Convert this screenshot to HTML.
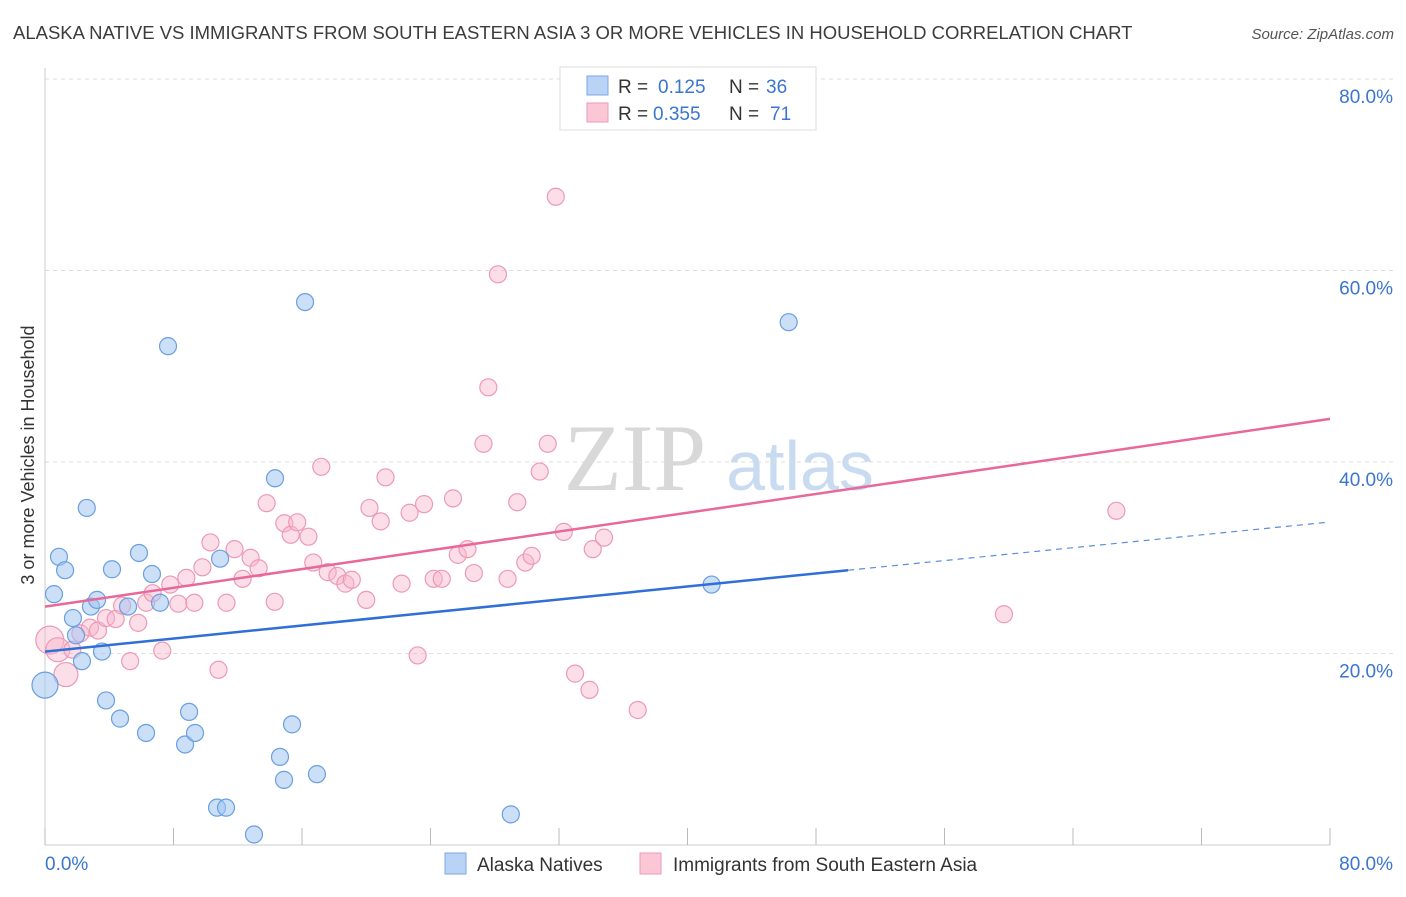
<!DOCTYPE html>
<html><head><meta charset="utf-8">
<style>
body{margin:0;background:#fff;font-family:"Liberation Sans",sans-serif;}
svg text{font-family:"Liberation Sans",sans-serif;}
</style></head>
<body>
<svg id="chart" width="1406" height="892" xmlns="http://www.w3.org/2000/svg">
<text x="13" y="39" font-size="18.5" fill="#3c3c3c">ALASKA NATIVE VS IMMIGRANTS FROM SOUTH EASTERN ASIA 3 OR MORE VEHICLES IN HOUSEHOLD CORRELATION CHART</text>
<text x="1394" y="39" font-size="15" fill="#555" font-style="italic" text-anchor="end">Source: ZipAtlas.com</text>
<text transform="translate(34,455) rotate(-90)" font-size="18" fill="#333" text-anchor="middle">3 or more Vehicles in Household</text>
<g>
<text x="635" y="490" font-size="95" fill="#d8d8d8" font-family="Liberation Serif" text-anchor="middle" style="font-family:'Liberation Serif',serif">ZIP</text>
<text x="800" y="490" font-size="70" fill="#c9dbf0" text-anchor="middle">atlas</text>
</g>
<g id="grid"></g>
<g id="axes"></g>
<g id="points"></g>
<g id="trends"></g>
<g>
<rect x="560" y="67" width="256" height="63" fill="#fff" stroke="#ddd"/>
<rect x="587" y="76" width="21" height="19" fill="#b8d3f5" stroke="#7aa8e6"/>
<rect x="587" y="103" width="21" height="19" fill="#fbc6d6" stroke="#ee9ab5"/>
<text x="618" y="93" font-size="19" fill="#333">R = </text><text x="658" y="93" font-size="19" fill="#3a75d0">0.125</text>
<text x="729" y="93" font-size="19" fill="#333">N = </text><text x="766" y="93" font-size="19" fill="#3a75d0">36</text>
<text x="618" y="120" font-size="19" fill="#333">R = </text><text x="653" y="120" font-size="19" fill="#3a75d0">0.355</text>
<text x="729" y="120" font-size="19" fill="#333">N = </text><text x="770" y="120" font-size="19" fill="#3a75d0">71</text>
</g>
<g>
<rect x="445" y="853" width="21" height="21" fill="#b8d3f5" stroke="#7aa8e6"/>
<text x="477" y="871" font-size="19" fill="#333">Alaska Natives</text>
<rect x="640" y="853" width="21" height="21" fill="#fbc6d6" stroke="#ee9ab5"/>
<text x="673" y="871" font-size="19" fill="#333">Immigrants from South Eastern Asia</text>
</g>
</svg>
<script>
const blueX=[0,0.56,0.87,1.25,1.74,1.93,2.3,2.6,2.86,3.24,3.55,3.8,4.17,4.67,5.17,5.85,6.29,6.66,7.16,7.66,8.72,8.97,9.34,10.71,10.9,11.27,13.01,14.32,14.63,14.88,15.38,16.19,16.93,29.0,41.5,46.3];
const blueY=[16.7,26.2,30.1,28.7,23.7,21.9,19.2,35.2,24.9,25.6,20.2,15.1,28.8,13.2,24.9,30.5,11.7,28.3,25.3,52.1,10.5,13.9,11.7,3.9,29.9,3.9,1.1,38.3,9.2,6.8,12.6,56.7,7.4,3.2,27.2,54.6];
const pinkX=[0.3,0.8,1.3,1.7,2.2,2.8,3.3,3.8,4.4,4.8,5.3,5.8,6.3,6.7,7.3,7.8,8.3,8.8,9.3,9.8,10.3,10.8,11.3,11.8,12.3,12.8,13.3,13.8,14.3,14.9,15.3,15.7,16.4,16.7,17.2,17.6,18.2,18.7,19.1,20.0,20.2,20.9,21.2,22.2,22.7,23.2,23.6,24.2,24.7,25.4,25.7,26.3,26.7,27.3,27.6,28.2,28.8,29.4,29.9,30.3,30.8,31.3,31.8,32.3,33.0,33.9,34.1,34.8,36.9,59.7,66.7];
const pinkY=[21.4,20.4,17.8,20.4,22.1,22.7,22.4,23.7,23.6,25.0,19.2,23.2,25.3,26.3,20.3,27.2,25.2,27.9,25.3,29.0,31.6,18.3,25.3,30.9,27.8,30.0,28.9,35.7,25.4,33.6,32.4,33.7,32.2,29.5,39.5,28.5,28.1,27.3,27.7,25.6,35.2,33.8,38.4,27.3,34.7,19.8,35.6,27.8,27.8,36.2,30.3,30.9,28.4,41.9,47.8,59.6,27.8,35.8,29.5,30.2,39.0,41.9,67.7,32.7,17.9,16.2,30.9,32.1,14.1,24.1,34.9];
const yTicks=[20,40,60,80];
const yTickLabels=["20.0%","40.0%","60.0%","80.0%"];
const xTicks=[0,8,16,24,32,40,48,56,64,72,80];
const blueTrend=[[0,20.2],[50,28.7]];
const blueTrendDash=[[50,28.7],[79.8,33.7]];
const pinkTrend=[[0,24.9],[80,44.5]];

const NS="http://www.w3.org/2000/svg";
const X=v=>45+v/80*1285;
const Y=v=>845-v/20*191.5;
function mk(tag,attrs,parent){const e=document.createElementNS(NS,tag);for(const k in attrs)e.setAttribute(k,attrs[k]);parent.appendChild(e);return e;}
const grid=document.getElementById('grid'),axes=document.getElementById('axes'),pts=document.getElementById('points'),tr=document.getElementById('trends');
yTicks.forEach((t,i)=>{
  const l=mk('line',{x1:45,x2:1394,y1:Y(t),y2:Y(t),stroke:'#dcdcdc','stroke-dasharray':'4,4'},grid);
  
  
  const tx=mk('text',{x:1393,y:Y(t)+24,'font-size':19,fill:'#3a75d0','text-anchor':'end'},axes);
  tx.textContent=yTickLabels[i];
  
  
});
const xl=mk('line',{x1:45,x2:1330,y1:845,y2:845,stroke:'#ccc'},axes);


const yl=mk('line',{x1:45,x2:45,y1:68,y2:845,stroke:'#ccc'},axes);


xTicks.forEach(t=>{
  const l=mk('line',{x1:X(t),x2:X(t),y1:828,y2:845,stroke:'#bbb'},axes);
  
  
});
const x0=mk('text',{x:45,y:870,'font-size':19,fill:'#3a75d0'},axes);x0.textContent='0.0%';


const x1=mk('text',{x:1393,y:870,'font-size':19,fill:'#3a75d0','text-anchor':'end'},axes);x1.textContent='80.0%';


pinkX.forEach((v,i)=>{
  const r=i<3?(i==0?14:12):8.5;
  const c=mk('circle',{cx:X(v),cy:Y(pinkY[i]),r:r,fill:'rgba(248,182,204,0.45)',stroke:'#ec9ab4','stroke-width':1.2},pts);
  
  
});
blueX.forEach((v,i)=>{
  const r=i==0?13:8.5;
  const c=mk('circle',{cx:X(v),cy:Y(blueY[i]),r:r,fill:'rgba(160,196,240,0.55)',stroke:'#6a9fe0','stroke-width':1.2},pts);
  
  
});
const bt=mk('line',{x1:X(blueTrend[0][0]),y1:Y(blueTrend[0][1]),x2:X(blueTrend[1][0]),y2:Y(blueTrend[1][1]),stroke:'#2f6fd6','stroke-width':2.5},tr);


const bd=mk('line',{x1:X(blueTrendDash[0][0]),y1:Y(blueTrendDash[0][1]),x2:X(blueTrendDash[1][0]),y2:Y(blueTrendDash[1][1]),stroke:'#5a8fdc','stroke-width':1.2,'stroke-dasharray':'6,5'},tr);


const pt=mk('line',{x1:X(pinkTrend[0][0]),y1:Y(pinkTrend[0][1]),x2:X(pinkTrend[1][0]),y2:Y(pinkTrend[1][1]),stroke:'#e8689a','stroke-width':2.5},tr);


</script>
</body></html>
